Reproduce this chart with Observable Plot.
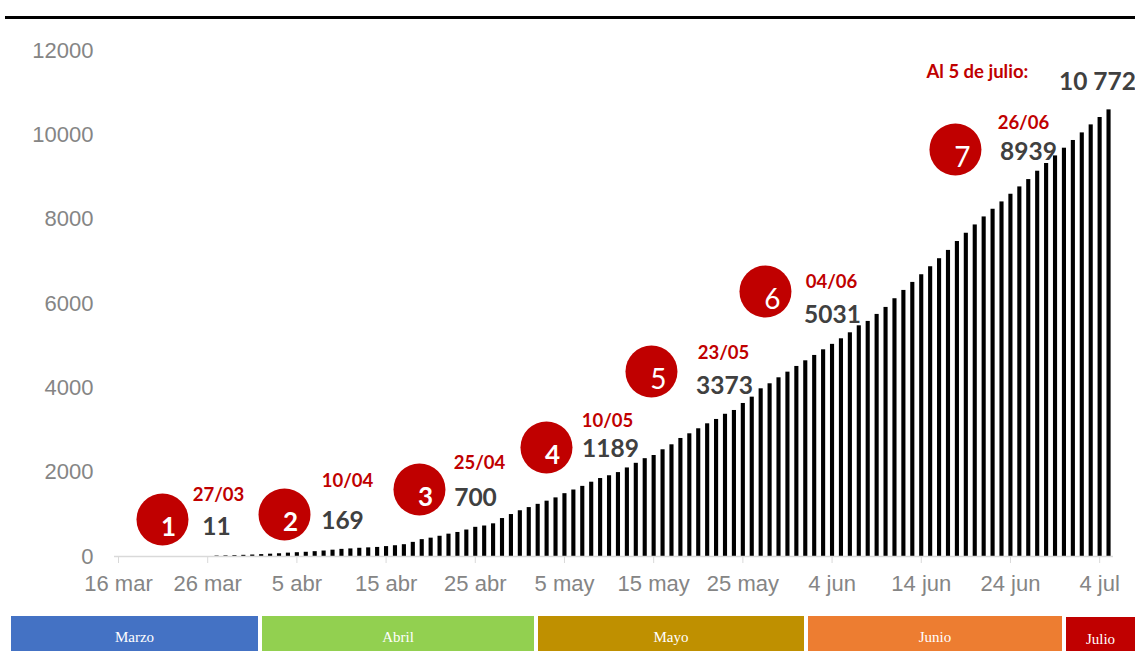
<!DOCTYPE html>
<html>
<head>
<meta charset="utf-8">
<script src="https://cdn.jsdelivr.net/npm/d3@7"></script>
<script src="https://cdn.jsdelivr.net/npm/@observablehq/plot@0.6"></script>
<style>
  html, body { margin: 0; padding: 0; background: #fff; }
  #wrap { position: relative; width: 1135px; height: 651px; overflow: hidden; background: #fff; }
  #topline { position: absolute; left: 5px; top: 16px; width: 1130px; height: 3px; background: #000; }
  .band { position: absolute; top: 616px; height: 40px; color: #fff; font-family: "Liberation Serif", serif; font-size: 15px; display: flex; justify-content: center; padding-top: 13px; box-sizing: border-box; }
</style>
</head>
<body>
<div id="wrap">
  <div id="chart"></div>
  <div id="topline"></div>
</div>
<script>
// ---- data ----
const axisStart = "2020-03-16";
const axisEnd = "2020-07-06";
const firstCaseDate = "2020-03-27";
// daily cumulative values from 27 mar to 5 jul
const cases = [11,15,20,28,35,45,55,65,80,90,
  100,115,130,150,169,180,195,205,215,235,
  255,280,335,400,435,480,530,570,628,692,
  723,775,900,995,1085,1160,1237,1312,1390,1490,
  1577,1663,1762,1849,1915,1990,2100,2210,2320,2395,
  2531,2649,2799,2910,3029,3147,3250,3373,3463,3629,
  3779,3977,4096,4238,4372,4507,4641,4768,4902,5031,
  5163,5305,5471,5575,5741,5907,6113,6310,6500,6682,
  6872,7062,7259,7470,7666,7863,8053,8235,8409,8591,
  8765,8939,9137,9320,9500,9683,9866,10046,10236,10411,
  10592];
const yTicks = [0, 2000, 4000, 6000, 8000, 10000, 12000];
const xTickDates = ["2020-03-16","2020-03-26","2020-04-05","2020-04-15","2020-04-25","2020-05-05","2020-05-15","2020-05-25","2020-06-04","2020-06-14","2020-06-24","2020-07-04"];
const xTickLabels = ["16 mar","26 mar","5 abr","15 abr","25 abr","5 may","15 may","25 may","4 jun","14 jun","24 jun","4 jul"];

const annNumbers = ["1","2","3","4","5","6","7"];
const annDates = ["27/03","10/04","25/04","10/05","23/05","04/06","26/06"];
const annValues = ["11","169","700","1189","3373","5031","8939"];
// annotation anchor positions in data units (days after axisStart, value)
const circleDay = [5.38, 19.06, 34.19, 48.43, 60.2, 72.98, 94.28];
const circleVal = [877, 996, 1589, 2585, 4387, 6284, 9652];
const dateLabelDay = [11.66, 26.12, 40.92, 55.27, 68.27, 80.38, 101.9];
const dateLabelVal = [1447, 1779, 2205, 3202, 4814, 6498, 10269];
const valueLabelDay = [11.43, 25.56, 40.47, 55.6, 68.39, 80.49, 102.47];
const valueLabelVal = [688, 830, 1375, 2537, 4032, 5715, 9581];
const finalTitle = "Al 5 de julio:";
const finalValue = "10 772";
const finalTitlePos = [96.74, 11478];
const finalValuePos = [110.2, 11241];

const monthNames = ["Marzo","Abril","Mayo","Junio","Julio"];
const monthColors = ["#4472c4","#92d050","#bf9000","#ed7d31","#c00000"];
const monthBandLeft = [11, 262, 538, 808, 1066];
const monthBandRight = [258, 534, 804, 1062, 1135];

// ---- build ----
const start = new Date(axisStart);
const dayToDate = d => new Date(+start + d * 864e5);
const first = new Date(firstCaseDate);
const rows = cases.map((v, i) => ({date: d3.utcDay.offset(first, i), value: v}));
const ann = annNumbers.map((n, i) => ({
  n, date: annDates[i], val: annValues[i],
  cx: dayToDate(circleDay[i]), cy: circleVal[i],
  dx: dayToDate(dateLabelDay[i]), dy: dateLabelVal[i],
  vx: dayToDate(valueLabelDay[i]), vy: valueLabelVal[i],
  bold: i < 4
}));

const red = "#c00000";
const gray = "#404040";
const lato = "Lato, 'Liberation Sans', sans-serif";

const chart = Plot.plot({
  width: 1135,
  height: 651,
  marginLeft: 114,
  marginRight: 22,
  marginTop: 50,
  marginBottom: 95,
  style: {fontFamily: "'Liberation Sans', Arial, sans-serif", fontSize: "22px", color: "#858585", background: "#fff"},
  x: {type: "utc", domain: [new Date(axisStart), new Date(axisEnd)]},
  y: {domain: [0, 12000]},
  marks: [
    Plot.rectY(rows, {
      x1: "date",
      x2: d => d3.utcDay.offset(d.date, 1),
      y: "value",
      fill: "#000",
      insetLeft: 2.4,
      insetRight: 2.4
    }),
    Plot.ruleY([0], {stroke: "#d9d9d9", strokeWidth: 1.5}),
    Plot.axisY({ticks: yTicks, tickSize: 0, tickPadding: 21, tickFormat: d => String(d), fill: "#858585"}),
    Plot.axisX({ticks: xTickDates.map(d => new Date(d)), tickFormat: (d, i) => xTickLabels[i], tickSize: 7, tickPadding: 12, stroke: "#d9d9d9", fill: "#858585", dx: 4}),
    Plot.dot(ann, {x: "cx", y: "cy", r: 26, fill: red, stroke: "none"}),
    Plot.text(ann.filter(d => d.bold), {x: "cx", y: "cy", text: "n", fill: "#fff", fontFamily: lato, fontWeight: "bold", fontSize: 26, dx: 6, dy: 8}),
    Plot.text(ann.filter(d => !d.bold), {x: "cx", y: "cy", text: "n", fill: "#fff", fontFamily: lato, fontWeight: "normal", fontSize: 28, dx: 7, dy: 9}),
    Plot.text(ann, {x: "dx", y: "dy", text: "date", fill: red, fontFamily: lato, fontWeight: "bold", fontSize: 18.5}),
    Plot.text(ann, {x: "vx", y: "vy", text: "val", fill: gray, fontFamily: lato, fontWeight: "bold", fontSize: 24.5}),
    Plot.text([finalTitle], {x: dayToDate(finalTitlePos[0]), y: finalTitlePos[1], text: d => d, fill: red, fontFamily: lato, fontWeight: "bold", fontSize: 18.5}),
    Plot.text([finalValue], {x: dayToDate(finalValuePos[0]), y: finalValuePos[1], text: d => d, fill: gray, fontFamily: lato, fontWeight: "bold", fontSize: 24.5})
  ]
});
document.getElementById("chart").appendChild(chart);

const wrap = document.getElementById("wrap");
monthNames.forEach((m, i) => {
  const b = document.createElement("div");
  b.className = "band";
  b.style.left = monthBandLeft[i] + "px";
  b.style.width = (monthBandRight[i] - monthBandLeft[i]) + "px";
  b.style.background = monthColors[i];
  if (i === 4) { b.style.top = "617px"; b.style.paddingTop = "14px"; }
  b.textContent = m;
  wrap.appendChild(b);
});
</script>
</body>
</html>
